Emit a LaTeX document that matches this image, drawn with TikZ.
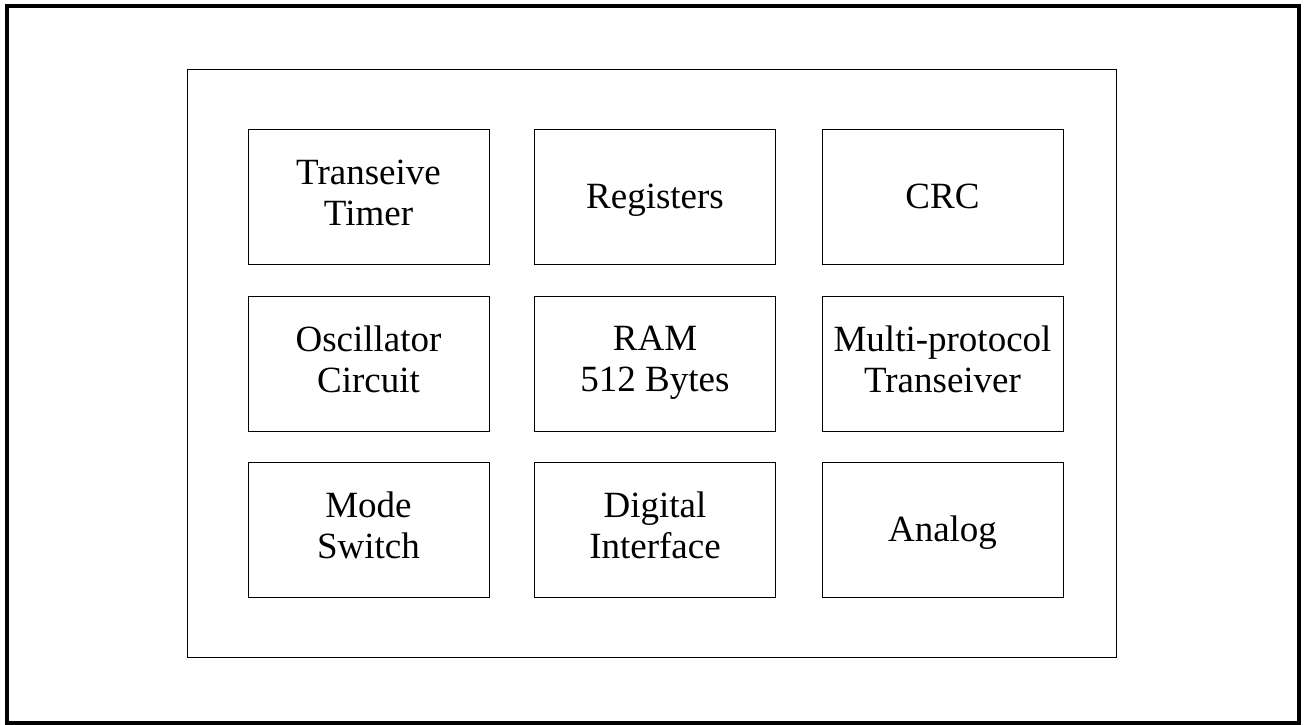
\documentclass[tikz,border=0pt]{standalone}
\usepackage{fontspec}
\setmainfont{Liberation Serif}
\usepackage{tikz}
\usetikzlibrary{positioning}

% line strut so that one- and two-line labels sit alike
\newcommand{\blockstrut}{\rule[-9pt]{0pt}{41pt}}

\begin{document}
\begin{tikzpicture}[x=1pt, y=-1pt,
  font=\fontsize{37}{41}\selectfont,
  block/.style={draw=black, line width=1pt, minimum width=241pt, minimum height=135pt, align=center, inner sep=0pt,
    execute at begin node=\blockstrut, execute at end node=\blockstrut},
  frame/.style={draw=black, line width=4pt}
]
	\useasboundingbox (0, 0) rectangle (1304, 724);

%------------- Frame
	\coordinate (F1) at (7, 6);
	\coordinate (F2) at (1299, 722.5);
	\draw[frame] (F1) rectangle (F2);

%------------- Chip
	\coordinate (C1) at (187, 69);
	\coordinate (C2) at (1116, 69);
	\coordinate (C3) at (1116, 657.5);
	\coordinate (C4) at (187, 657.5);
	\draw[line width=1pt] (C1) -- (C2);
	\draw[line width=1pt] (C2) -- (C3);
	\draw[line width=1pt] (C3) -- (C4);
	\draw[line width=1pt] (C4) -- (C1);

%------------- Top row
	\node[block] (Tr_Timer) at (368.5, 197) {Transeive\\Timer};
	\node[block] (Registers) at (655, 197) {Registers};
	\node[block] (CRC) at (942.5, 197) {CRC};

%------------- Middle row
	\node[block] (Osc_Circuit) at (368.5, 363.5) {Oscillator\\Circuit};
	\node[block] (RAM) at (655, 363.5) {RAM\\512 Bytes};
	\node[block] (MP_Transceiver) at (942.5, 363.5) {Multi-protocol\\Transeiver};

%------------- Bottom row
	\node[block] (Mode_Switch) at (368.5, 530) {Mode\\Switch};
	\node[block] (Digital_Interface) at (655, 530) {Digital\\Interface};
	\node[block] (Analog) at (942.5, 530) {Analog};

\end{tikzpicture}
\end{document}
